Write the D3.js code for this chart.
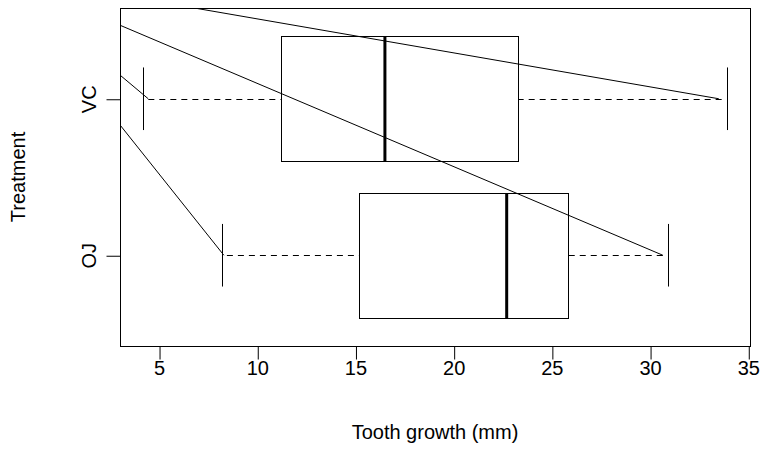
<!DOCTYPE html>
<html>
<head>
<meta charset="utf-8">
<script src="https://cdn.jsdelivr.net/npm/d3@7"></script>
<style>
  body { margin: 0; background: #fff; }
  svg text { font-family: "Liberation Sans", Arial, sans-serif; fill: #000; }
</style>
</head>
<body>
<div id="chart"></div>
<script>
// boxplot stats per treatment (OJ = 1, VC = 2)
const treatments = ["OJ", "VC"];
const lowerWhisker = [8.2, 4.2];
const lowerHinge = [15.2, 11.2];
const medianLen = [22.7, 16.5];
const upperHinge = [25.8, 23.3];
const upperWhisker = [30.9, 33.9];
const xTicks = [5, 10, 15, 20, 25, 30, 35];

// the stray lines all leave one point up-left of the plot
const lineFromX = -3.1;
const lineFromY = 2.795;
const lineToX = [33.5, 30.65, 4.45, 8.3];
const lineToY = [2, 1, 2, 1];

const W = 763, H = 463;
const plot = { left: 120, right: 750, top: 8, bottom: 346 };
const fontSize = 20;

const svg = d3.select("#chart").append("svg")
    .attr("width", W)
    .attr("height", H);

// R style: 4% padding on the data range
const lo = d3.min(lowerWhisker), hi = d3.max(upperWhisker);
const pad = (hi - lo) * 0.04;
const x = d3.scaleLinear()
    .domain([lo - pad, hi + pad])
    .range([plot.left, plot.right]);

const y = d3.scaleLinear()
    .domain([0.5 - 0.08, treatments.length + 0.5 + 0.08])
    .range([plot.bottom, plot.top]);

const stats = treatments.map((t, i) => ({
    name: t, pos: i + 1,
    min: lowerWhisker[i], q1: lowerHinge[i], med: medianLen[i],
    q3: upperHinge[i], max: upperWhisker[i]
}));

const boxHalf = 0.4, stapleHalf = 0.2;

const g = svg.append("g");

// whiskers (dashed, drawn from the staple inward)
["min", "max"].forEach(k => {
    const inner = k == "min" ? "q1" : "q3";
    g.append("g").selectAll("line")
        .data(stats)
        .join("line")
        .attr("x1", d => x(d[k])).attr("x2", d => x(d[inner]))
        .attr("y1", d => Math.round(y(d.pos)) + 0.5).attr("y2", d => Math.round(y(d.pos)) + 0.5)
        .attr("stroke", "#000").attr("stroke-dasharray", "6,5").attr("stroke-dashoffset", 6);
});

// staples
["min", "max"].forEach(k => {
    g.append("g").selectAll("line")
        .data(stats)
        .join("line")
        .attr("x1", d => Math.round(x(d[k])) + 0.5).attr("x2", d => Math.round(x(d[k])) + 0.5)
        .attr("y1", d => y(d.pos - stapleHalf)).attr("y2", d => y(d.pos + stapleHalf))
        .attr("stroke", "#000");
});

// boxes
g.append("g").selectAll("rect")
    .data(stats)
    .join("rect")
    .attr("x", d => Math.round(x(d.q1)) + 0.5)
    .attr("y", d => Math.round(y(d.pos + boxHalf)) + 0.5)
    .attr("width", d => Math.round(x(d.q3)) - Math.round(x(d.q1)))
    .attr("height", d => Math.round(y(d.pos - boxHalf)) - Math.round(y(d.pos + boxHalf)))
    .attr("fill", "#fff")
    .attr("stroke", "#000");

// medians
g.append("g").selectAll("line")
    .data(stats)
    .join("line")
    .attr("x1", d => x(d.med)).attr("x2", d => x(d.med))
    .attr("y1", d => Math.round(y(d.pos + boxHalf)) + 0.5)
    .attr("y2", d => Math.round(y(d.pos - boxHalf)) + 0.5)
    .attr("stroke", "#000").attr("stroke-width", 3);

// stray lines, clipped to the plot region
svg.append("clipPath").attr("id", "plotclip")
    .append("rect")
    .attr("x", plot.left).attr("y", plot.top)
    .attr("width", plot.right - plot.left).attr("height", plot.bottom - plot.top);

svg.append("g").attr("clip-path", "url(#plotclip)")
    .selectAll("line")
    .data(lineToX.map((v, i) => ({ x: v, y: lineToY[i] })))
    .join("line")
    .attr("x1", x(lineFromX)).attr("y1", y(lineFromY))
    .attr("x2", d => x(d.x)).attr("y2", d => y(d.y))
    .attr("stroke", "#000");

// frame
svg.append("rect")
    .attr("x", plot.left + 0.5).attr("y", plot.top + 0.5)
    .attr("width", plot.right - plot.left).attr("height", plot.bottom - plot.top)
    .attr("fill", "none").attr("stroke", "#000");

// x axis
const xAxis = svg.append("g")
    .attr("transform", `translate(0,${plot.bottom + 0.5})`)
    .call(d3.axisBottom(x).tickValues(xTicks).tickSize(13).tickPadding(1).tickSizeOuter(0));
xAxis.select(".domain").remove();
xAxis.selectAll("text").attr("font-size", fontSize).attr("font-family", null);
xAxis.selectAll("line").attr("transform", "translate(0.5,0)");

// y axis
const yAxis = svg.append("g")
    .attr("transform", `translate(${plot.left + 0.5},0)`)
    .call(d3.axisLeft(y).tickValues(stats.map(d => d.pos))
        .tickFormat((d, i) => treatments[i]).tickSize(14).tickSizeOuter(0));
yAxis.select(".domain").remove();
yAxis.selectAll("line").attr("transform", "translate(0,0.5)");
yAxis.selectAll("text")
    .attr("font-size", fontSize).attr("font-family", null)
    .attr("x", 0).attr("dy", null)
    .attr("text-anchor", "middle")
    .attr("transform", "translate(-25,0) rotate(-90)");

// axis titles
svg.append("text")
    .attr("x", (plot.left + plot.right) / 2).attr("y", 439)
    .attr("text-anchor", "middle").attr("font-size", fontSize)
    .text("Tooth growth (mm)");

svg.append("text")
    .attr("transform", `translate(25,${(plot.top + plot.bottom) / 2}) rotate(-90)`)
    .attr("text-anchor", "middle").attr("font-size", fontSize)
    .text("Treatment");
</script>
</body>
</html>
